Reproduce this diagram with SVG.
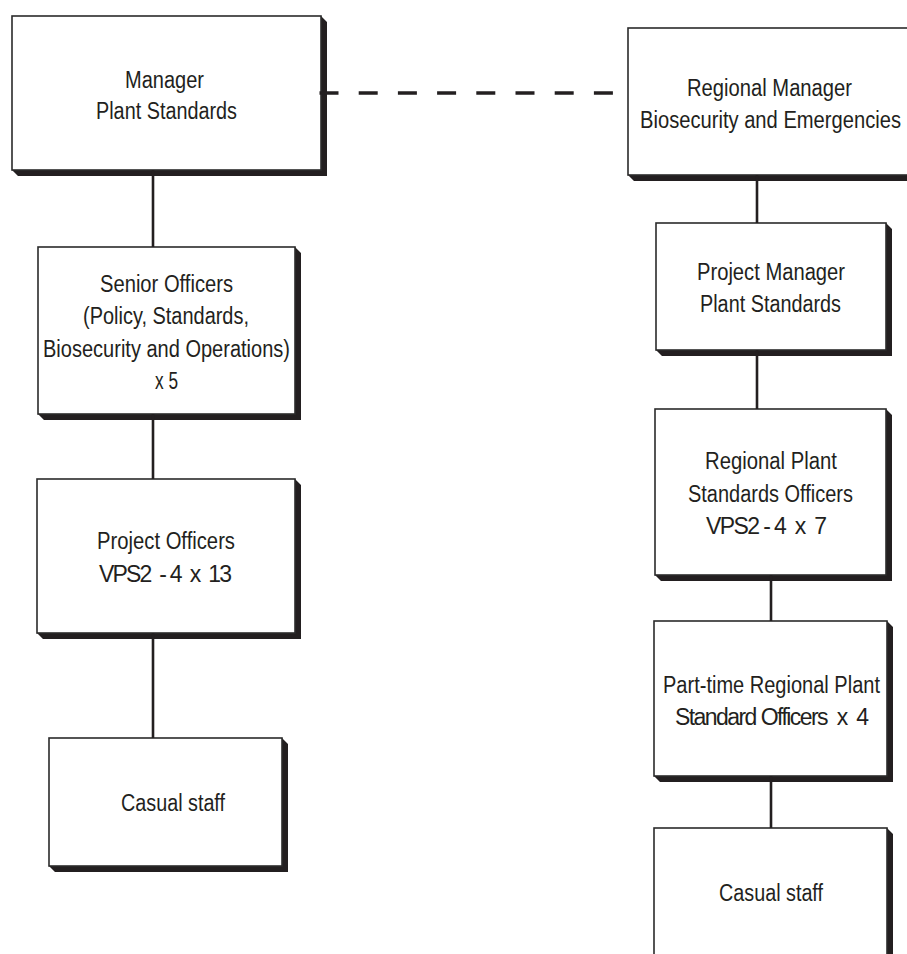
<svg xmlns="http://www.w3.org/2000/svg" width="907" height="954" viewBox="0 0 907 954">
<style>
.shadow{fill:#231f20;stroke:none}
.box{fill:#ffffff;stroke:#2b2b2b;stroke-width:1.6}
.lbl{font-family:"Liberation Sans Narrow","Liberation Sans",Arial,sans-serif;font-size:23px;fill:#231f20}
.conn{stroke:#231f20;stroke-width:2.6;fill:none}
.dash{stroke:#231f20;stroke-width:3.5;fill:none;stroke-dasharray:19 20.2}
</style>
<rect width="907" height="954" fill="#ffffff"/>

<g id="manager-plant-standards">
<polygon class="shadow" points="321,16 327,22 327,176 18,176 12,170 321,170"/>
<rect class="box" x="12" y="16" width="309" height="154"/>
<text class="lbl" x="125" y="87.5" textLength="79" lengthAdjust="spacingAndGlyphs">Manager</text>
<text class="lbl" x="96" y="119" textLength="141" lengthAdjust="spacingAndGlyphs">Plant Standards</text>
</g>

<g id="senior-officers">
<polygon class="shadow" points="295,247 301,253 301,420 44,420 38,414 295,414"/>
<rect class="box" x="38" y="247" width="257" height="167"/>
<text class="lbl" x="100" y="291.5" textLength="133" lengthAdjust="spacingAndGlyphs">Senior Officers</text>
<text class="lbl" x="83" y="324" textLength="166" lengthAdjust="spacingAndGlyphs">(Policy, Standards,</text>
<text class="lbl" x="43" y="356.5" textLength="247" lengthAdjust="spacingAndGlyphs">Biosecurity and Operations)</text>
<text class="lbl" x="155" y="389" textLength="23" lengthAdjust="spacingAndGlyphs">x 5</text>
</g>

<g id="project-officers">
<polygon class="shadow" points="295,479 301,485 301,639 43,639 37,633 295,633"/>
<rect class="box" x="37" y="479" width="258" height="154"/>
<text class="lbl" x="97" y="549" textLength="138" lengthAdjust="spacingAndGlyphs">Project Officers</text>
<text class="lbl" x="99" y="582" textLength="133" lengthAdjust="spacing" xml:space="preserve">VPS2  - 4  x  13</text>
</g>

<g id="casual-staff-left">
<polygon class="shadow" points="282,738 288,744 288,872 55,872 49,866 282,866"/>
<rect class="box" x="49" y="738" width="233" height="128"/>
<text class="lbl" x="121" y="810.5" textLength="104" lengthAdjust="spacingAndGlyphs">Casual staff</text>
</g>

<g id="regional-manager">
<polygon class="shadow" points="912,28 918,34 918,181 634,181 628,175 912,175"/>
<rect class="box" x="628" y="28" width="284" height="147"/>
<text class="lbl" x="687" y="95.5" textLength="165" lengthAdjust="spacingAndGlyphs">Regional Manager</text>
<text class="lbl" x="640" y="127.5" textLength="261" lengthAdjust="spacingAndGlyphs">Biosecurity and Emergencies</text>
</g>

<g id="project-manager">
<polygon class="shadow" points="886,223 892,229 892,356 662,356 656,350 886,350"/>
<rect class="box" x="656" y="223" width="230" height="127"/>
<text class="lbl" x="697" y="280" textLength="148" lengthAdjust="spacingAndGlyphs">Project Manager</text>
<text class="lbl" x="700" y="312" textLength="141" lengthAdjust="spacingAndGlyphs">Plant Standards</text>
</g>

<g id="regional-plant-standards-officers">
<polygon class="shadow" points="886,409 892,415 892,581 661,581 655,575 886,575"/>
<rect class="box" x="655" y="409" width="231" height="166"/>
<text class="lbl" x="705" y="469" textLength="132" lengthAdjust="spacingAndGlyphs">Regional Plant</text>
<text class="lbl" x="688" y="502" textLength="165" lengthAdjust="spacingAndGlyphs">Standards Officers</text>
<text class="lbl" x="706" y="534" textLength="121" lengthAdjust="spacing" xml:space="preserve">VPS2 - 4  x  7</text>
</g>

<g id="part-time-officers">
<polygon class="shadow" points="887,621 893,627 893,782 660,782 654,776 887,776"/>
<rect class="box" x="654" y="621" width="233" height="155"/>
<text class="lbl" x="663" y="693" textLength="217" lengthAdjust="spacingAndGlyphs">Part-time Regional Plant</text>
<text class="lbl" x="675" y="725" textLength="194" lengthAdjust="spacing" xml:space="preserve">Standard Officers  x  4</text>
</g>

<g id="casual-staff-right">
<polygon class="shadow" points="887,828 893,834 893,990 660,990 654,984 887,984"/>
<rect class="box" x="654" y="828" width="233" height="156"/>
<text class="lbl" x="719" y="900.5" textLength="104" lengthAdjust="spacingAndGlyphs">Casual staff</text>
</g>

<g id="connectors">
<line class="conn" x1="153" y1="170" x2="153" y2="247"/>
<line class="conn" x1="153" y1="414" x2="153" y2="479"/>
<line class="conn" x1="153" y1="633" x2="153" y2="738"/>
<line class="conn" x1="757" y1="175" x2="757" y2="223"/>
<line class="conn" x1="757" y1="350" x2="757" y2="409"/>
<line class="conn" x1="771" y1="575" x2="771" y2="621"/>
<line class="conn" x1="771" y1="776" x2="771" y2="828"/>
<line class="dash" x1="319.5" y1="93" x2="614" y2="93"/>
</g>
</svg>
